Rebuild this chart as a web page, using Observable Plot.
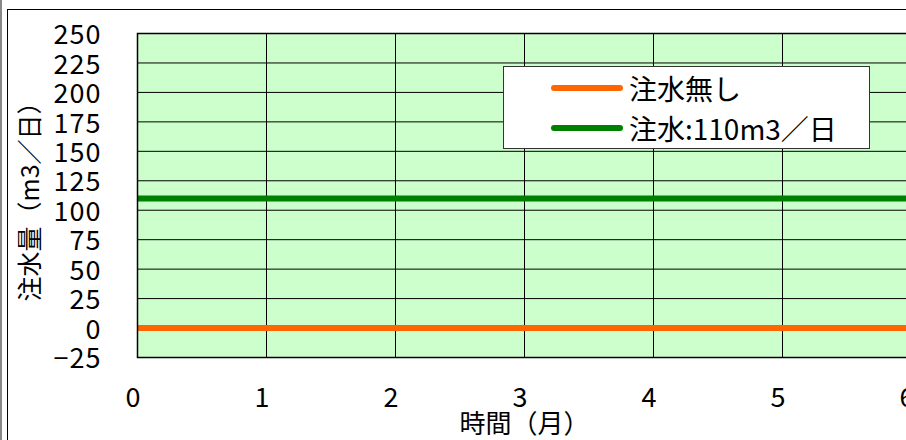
<!DOCTYPE html>
<html>
<head>
<meta charset="utf-8">
<script src="https://cdn.jsdelivr.net/npm/d3@7"></script>
<script src="https://cdn.jsdelivr.net/npm/@observablehq/plot@0.6"></script>
<style>
  html, body { margin: 0; padding: 0; background: #fff; overflow: hidden; width: 906px; height: 440px; }
  #wrap { position: relative; width: 906px; height: 440px; overflow: hidden; }
  #edge { position: absolute; left: 0; top: 0; width: 2px; height: 440px; background: #888; }
  #box { position: absolute; left: 7px; top: 9px; width: 1000px; height: 1000px; border: 1px solid #000; }
  #chart { position: absolute; left: 0; top: 0; width: 940px; height: 440px; }
  #chart svg { max-width: none !important; }
  #legend { position: absolute; left: 503px; top: 66px; width: 365px; height: 81px; border: 1px solid #333; background: #fff;
            font-family: "Noto Sans CJK JP", sans-serif; font-size: 28px; color: #000; }
  .item { position: absolute; left: 47px; display: flex; align-items: center; height: 36px; }
  .sw { width: 72px; height: 6px; border-radius: 3px; margin-right: 6px; }
</style>
</head>
<body>
<div id="wrap">
  <div id="edge"></div>
  <div id="box"></div>
  <div id="chart"></div>
  <div id="legend"></div>
</div>
<script>
const months = [0, 1, 2, 3, 4, 5, 6];
const noInjection = [0, 0, 0, 0, 0, 0, 0];
const injection110 = [110, 110, 110, 110, 110, 110, 110];
const yTicks = [-25, 0, 25, 50, 75, 100, 125, 150, 175, 200, 225, 250];
const seriesNames = ["注水無し", "注水:110m3\uFF0F日"];
const seriesColors = ["#FF6600", "#008000"];
const xTitle = "時間\uFF08月\uFF09";
const yTitle = "注水量\uFF08m3\uFF0F日\uFF09";

const font = "'Noto Sans CJK JP', sans-serif";
const rows = [];
months.forEach((m, i) => {
  rows.push({month: m, value: noInjection[i], series: seriesNames[0]});
  rows.push({month: m, value: injection110[i], series: seriesNames[1]});
});

const chart = Plot.plot({
  width: 940,
  height: 440,
  marginLeft: 137,
  marginRight: 29,
  marginTop: 33,
  marginBottom: 83,
  style: {fontFamily: font, fontSize: "27px", background: "transparent", color: "#000", overflow: "visible"},
  x: {domain: [0, 6]},
  y: {domain: [-25, 250]},
  color: {domain: seriesNames, range: seriesColors},
  marks: [
    Plot.frame({fill: "#CCFFCC", stroke: null}),
    Plot.gridX(months, {stroke: "#000", strokeOpacity: 1, strokeWidth: 1}),
    Plot.gridY(yTicks, {stroke: "#000", strokeOpacity: 1, strokeWidth: 1}),
    Plot.line(rows, {x: "month", y: "value", z: "series", stroke: "series", strokeWidth: 6, strokeLinecap: "butt"}),
    Plot.frame({stroke: "#000", strokeWidth: 1.5}),
    Plot.axisY(yTicks, {tickSize: 0, tickPadding: 36, label: null, fontSize: 27, dy: 2, tickFormat: d => (d < 0 ? "\u2212" + Math.abs(d) : String(d))}),
    Plot.axisX(months, {tickSize: 0, tickPadding: 30, label: null, fontSize: 27, dx: -4, tickFormat: d => String(d)}),
    Plot.text([yTitle], {frameAnchor: "left", textAnchor: "middle", lineAnchor: "middle", dx: -107, rotate: -90, fontSize: 25, fill: "#000"}),
    Plot.text([xTitle], {frameAnchor: "bottom", textAnchor: "middle", lineAnchor: "middle", dy: 67, fontSize: 26, fill: "#000"})
  ]
});
chart.style.maxWidth = "none";
chart.style.width = "940px";
chart.style.height = "440px";
chart.querySelectorAll("g[aria-label$='axis'] text, g[aria-label$='tick label'] text").forEach(t => t.style.letterSpacing = "1px");
document.getElementById("chart").appendChild(chart);

const legend = document.getElementById("legend");
seriesNames.forEach((name, i) => {
  const item = document.createElement("div");
  item.className = "item";
  item.style.top = (3 + i * 40) + "px";
  const sw = document.createElement("div");
  sw.className = "sw";
  sw.style.background = seriesColors[i];
  const label = document.createElement("span");
  label.textContent = name;
  item.appendChild(sw);
  item.appendChild(label);
  legend.appendChild(item);
});
</script>
</body>
</html>
